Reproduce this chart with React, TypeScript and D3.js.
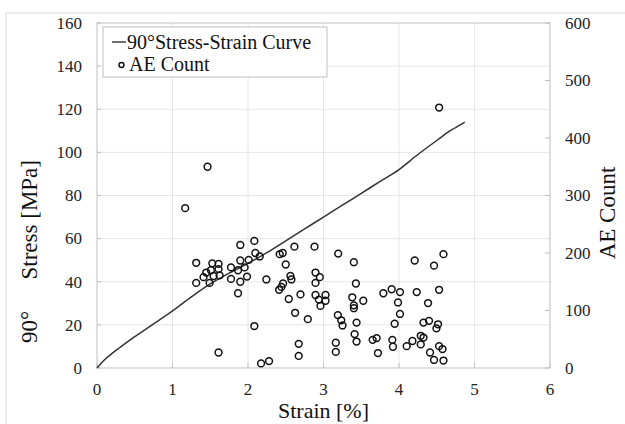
import React from "react";
import * as d3 from "d3";

// Stress-strain curve (strain %, stress MPa)
const curveStrain = [0, 0.05, 0.1, 0.2, 0.3, 0.5, 0.75, 1.0, 1.25, 1.5, 1.75, 2.0, 2.25, 2.5, 2.75, 3.0, 3.25, 3.5, 3.75, 4.0, 4.25, 4.5, 4.7, 4.8, 4.87];
const curveStress = [0, 2.0, 3.8, 6.8, 9.4, 14.5, 20.5, 26.5, 33, 39, 44, 48.5, 53.5, 59, 64.5, 70, 75.5, 81, 86.5, 92, 99, 105.5, 110.5, 112.5, 114];

// AE count scatter (strain %, count)
const aeStrain = [
  1.464, 1.168, 1.898, 1.314, 1.527, 1.61, 2.009, 1.898, 1.775, 1.955, 1.509, 1.61, 1.868, 1.447, 1.411, 1.544,
  1.624, 1.775, 1.987, 1.314, 1.491, 1.898, 1.868, 1.61, 2.084, 2.097, 2.155, 2.243, 2.084, 2.173, 2.279, 2.42,
  2.46, 2.615, 2.881, 2.5, 2.562, 2.575, 2.465, 2.443, 2.412, 2.695, 2.54, 2.624, 2.792, 2.672, 2.672, 2.894,
  2.951, 2.894, 2.894, 2.938, 3.027, 3.027, 2.96, 3.195, 3.402, 3.429, 3.381, 3.402, 3.19, 3.235, 3.252, 3.438,
  3.412, 3.438, 3.163, 3.163, 3.402, 3.527, 3.721, 3.651, 3.704, 3.793, 3.903, 4.013, 3.987, 4.013, 3.943, 3.912,
  3.92, 4.102, 4.178, 4.208, 4.235, 4.288, 4.324, 4.288, 4.324, 4.398, 4.385, 4.464, 4.531, 4.589, 4.517, 4.496,
  4.411, 4.464, 4.531, 4.576, 4.589, 4.531,
];
const aeCount = [
  350, 278, 214, 183, 182, 181, 188, 187, 175, 175, 170, 172, 170, 166, 158, 160,
  161, 155, 159, 148, 148, 150, 130, 27, 221, 200, 194, 154, 73, 8, 12, 198,
  200, 211, 211, 180, 160, 154, 147, 141, 136, 128, 120, 96, 85, 42, 21, 166,
  158, 148, 127, 119, 127, 117, 108, 199, 184, 147, 123, 109, 92, 83, 74, 79,
  59, 46, 44, 28, 104, 117, 26, 49, 52, 130, 137, 132, 114, 94, 77, 49,
  37, 38, 47, 187, 132, 56, 53, 41, 79, 82, 113, 178, 136, 198, 76, 69,
  27, 14, 38, 33, 13, 453,
];

const xTicks = [0, 1, 2, 3, 4, 5, 6];
const yTicks = [0, 20, 40, 60, 80, 100, 120, 140, 160];
const y2Ticks = [0, 100, 200, 300, 400, 500, 600];

const W = 625;
const H = 424;
const M = { left: 97, right: 550, top: 23, bottom: 368 };
const FONT = "'Liberation Serif', 'DejaVu Serif', 'Noto Serif', 'Times New Roman', Times, serif";
const ts = { fontFamily: FONT };

export default function App() {
  const x = d3.scaleLinear().domain([0, 6]).range([M.left, M.right]);
  const y = d3.scaleLinear().domain([0, 160]).range([M.bottom, M.top]);
  const y2 = d3.scaleLinear().domain([0, 600]).range([M.bottom, M.top]);

  const curve = curveStrain.map((s, i) => [s, curveStress[i]] as [number, number]);
  const line = d3
    .line<[number, number]>()
    .x((d) => x(d[0]))
    .y((d) => y(d[1]))
    .curve(d3.curveMonotoneX);

  const gridColor = "#e6e6e6";
  const axisColor = "#bfbfbf";

  return (
    <svg
      width={W}
      height={H}
      style={{ position: "absolute", left: 0, top: 0, background: "#fff", fontFamily: FONT }}
    >
      <rect x={0} y={0} width={W} height={H} fill="#fff" />
      {/* outer chart frame */}
      <path d={`M6,${H} V13 H${W}`} fill="none" stroke="#d9d9d9" strokeWidth={1} />

      {/* gridlines */}
      {yTicks.slice(1, -1).map((t) => (
        <line key={"gy" + t} x1={M.left} x2={M.right} y1={y(t)} y2={y(t)} stroke={gridColor} strokeWidth={1} />
      ))}
      {xTicks.slice(1, -1).map((t) => (
        <line key={"gx" + t} x1={x(t)} x2={x(t)} y1={M.top} y2={M.bottom} stroke={gridColor} strokeWidth={1} />
      ))}

      {/* plot border */}
      <rect
        x={M.left}
        y={M.top}
        width={M.right - M.left}
        height={M.bottom - M.top}
        fill="none"
        stroke={axisColor}
        strokeWidth={1}
      />

      {/* ticks */}
      {xTicks.map((t) => (
        <line key={"tx" + t} x1={x(t)} x2={x(t)} y1={M.bottom} y2={M.bottom - 5} stroke={axisColor} />
      ))}
      {yTicks.map((t) => (
        <line key={"ty" + t} x1={M.left} x2={M.left + 4} y1={y(t)} y2={y(t)} stroke={axisColor} />
      ))}
      {y2Ticks.map((t) => (
        <line key={"ty2" + t} x1={M.right} x2={M.right - 5} y1={y2(t)} y2={y2(t)} stroke={axisColor} />
      ))}

      {/* tick labels */}
      {xTicks.map((t) => (
        <text key={"lx" + t} style={ts} x={x(t)} y={395} textAnchor="middle" fontSize={17} fill="#222">
          {t}
        </text>
      ))}
      {yTicks.map((t) => (
        <text key={"ly" + t} style={ts} x={82} y={y(t)} dy="0.34em" textAnchor="end" fontSize={17} fill="#222">
          {t}
        </text>
      ))}
      {y2Ticks.map((t) => (
        <text key={"ly2" + t} style={ts} x={565} y={y2(t)} dy="0.34em" textAnchor="start" fontSize={17} fill="#222">
          {t}
        </text>
      ))}

      {/* axis titles */}
      <text style={ts} x={x(3)} y={418} textAnchor="middle" fontSize={22} fill="#111">
        Strain [%]
      </text>
      <text style={ts} transform="translate(37,343) rotate(-90)" textAnchor="start" fontSize={23} fill="#111">
        90°
      </text>
      <text style={ts} transform="translate(37,160) rotate(-90)" textAnchor="end" fontSize={23} fill="#111">
        Stress [MPa]
      </text>
      <text style={ts} transform="translate(615,213) rotate(-90)" textAnchor="middle" fontSize={23} fill="#111">
        AE Count
      </text>

      {/* stress-strain curve */}
      <path d={line(curve) || ""} fill="none" stroke="#333" strokeWidth={1.5} />

      {/* AE scatter */}
      {aeStrain.map((s, i) => (
        <circle key={"p" + i} cx={x(s)} cy={y2(aeCount[i])} r={3.4} fill="none" stroke="#111" strokeWidth={1.5} />
      ))}

      {/* legend */}
      <rect x={103} y={27} width={224} height={50} fill="#fff" stroke={axisColor} strokeWidth={1} />
      <line x1={112} x2={126} y1={42} y2={42} stroke="#222" strokeWidth={1.3} />
      <text style={ts} x={127} y={49} fontSize={20} fill="#111">
        90°Stress-Strain Curve
      </text>
      <circle cx={121.5} cy={65} r={2.5} fill="none" stroke="#111" strokeWidth={1.4} />
      <text style={ts} x={129} y={71} fontSize={20} fill="#111">
        AE Count
      </text>
    </svg>
  );
}
